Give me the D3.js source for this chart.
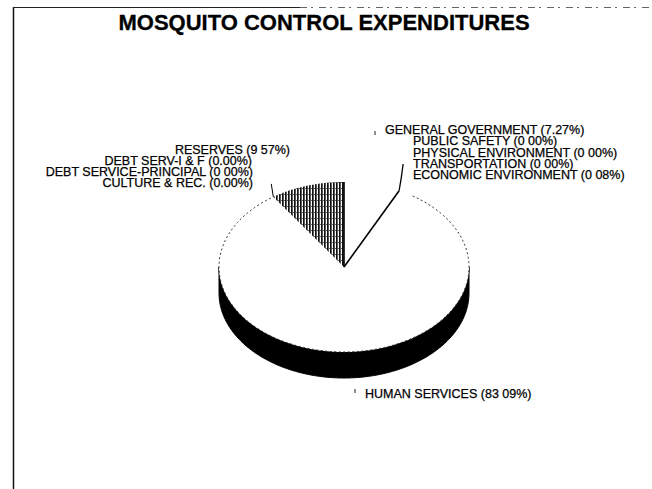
<!DOCTYPE html>
<html>
<head>
<meta charset="utf-8">
<script src="https://cdn.jsdelivr.net/npm/d3@7/dist/d3.min.js"></script>
<style>
  html, body { margin: 0; padding: 0; background: #fff; }
  svg text { font-family: "Liberation Sans", Arial, sans-serif; fill: #000; }
</style>
</head>
<body>
<svg id="chart" width="652" height="489"></svg>
<script>
// ---- data (clockwise from 12 o'clock) ----
const categories = [
  "GENERAL GOVERNMENT", "PUBLIC SAFETY", "PHYSICAL ENVIRONMENT", "TRANSPORTATION",
  "ECONOMIC ENVIRONMENT", "HUMAN SERVICES", "CULTURE & REC.", "DEBT SERVICE-PRINCIPAL",
  "DEBT SERV-I & F", "RESERVES"
];
const percents = [7.27, 0.00, 0.00, 0.00, 0.08, 83.09, 0.00, 0.00, 0.00, 9.57];
const percentLabels = ["7.27%", "0 00%", "0 00%", "0 00%", "0 08%", "83 09%", "0.00%", "0 00%", "0.00%", "9 57%"];
const title = "MOSQUITO CONTROL EXPENDITURES";

// ---- layout ----
const W = 652, H = 489;
const cx = 344, cy = 267, rx = 125, ry = 85, depth = 26;
const svg = d3.select("#chart");

// frame
svg.append("line").attr("x1", 13.5).attr("x2", 13.5).attr("y1", 7).attr("y2", H)
  .attr("stroke", "#111").attr("stroke-width", 1.5);
svg.append("line").attr("x1", 13).attr("x2", 300).attr("y1", 7.5).attr("y2", 7.5)
  .attr("stroke", "#222").attr("stroke-width", 1.2);
svg.append("line").attr("x1", 300).attr("x2", W).attr("y1", 7.5).attr("y2", 7.5)
  .attr("stroke", "#666").attr("stroke-width", 1).attr("stroke-dasharray", "7,4,2,6");

// title
svg.append("text").attr("x", 324).attr("y", 30).attr("text-anchor", "middle")
  .attr("font-size", 22).attr("font-weight", "bold")
  .attr("stroke", "#000").attr("stroke-width", 0.3).text(title);

// hatch pattern
const defs = svg.append("defs");
const pat = defs.append("pattern").attr("id", "hatch").attr("patternUnits", "userSpaceOnUse")
  .attr("width", 3).attr("height", 6);
pat.append("rect").attr("width", 3).attr("height", 6).attr("fill", "#fff");
pat.append("rect").attr("x", 0).attr("width", 1.7).attr("height", 6).attr("fill", "#111");
pat.append("rect").attr("x", 1.7).attr("y", 2).attr("width", 1.3).attr("height", 1).attr("fill", "#666");

// pie layout
const pie = d3.pie().sort(null).value(d => d).startAngle(0).endAngle(2 * Math.PI);
const arcs = pie(percents);

const pt = (a, dy = 0) => [cx + rx * Math.sin(a), cy - ry * Math.cos(a) + dy];
const line = d3.line();
function arcPts(a0, a1, dy = 0) {
  const n = Math.max(2, Math.ceil((a1 - a0) / 0.02));
  return d3.range(n + 1).map(i => pt(a0 + (a1 - a0) * i / n, dy));
}
function slicePath(d) {
  return line([[cx, cy], ...arcPts(d.startAngle, d.endAngle)]) + "Z";
}
function sidePath(d) {
  const s0 = Math.max(d.startAngle, Math.PI / 2), s1 = Math.min(d.endAngle, 3 * Math.PI / 2);
  if (s1 <= s0) return null;
  return line([...arcPts(s0, s1), ...arcPts(s0, s1, depth).reverse()]) + "Z";
}

const fills = i => categories[i] === "RESERVES" ? "url(#hatch)" : "#fff";

// sides
svg.append("g").selectAll("path").data(arcs.filter(d => d.data > 0 && sidePath(d)))
  .join("path").attr("d", sidePath).attr("fill", "#000").attr("stroke", "#000").attr("stroke-width", 1);

// tops
svg.append("g").selectAll("path").data(arcs.filter(d => d.data > 0))
  .join("path").attr("d", slicePath)
  .attr("fill", d => fills(d.index))
  .attr("stroke", "none");

// outline of the human services top rim (faint dotted)
const hs = arcs[categories.indexOf("HUMAN SERVICES")];
svg.append("path").attr("d", line(arcPts(hs.startAngle + 0.12, hs.endAngle)))
  .attr("fill", "none").attr("stroke", "#333").attr("stroke-width", 1).attr("stroke-dasharray", "2,2.5");

// boundary between general government and human services
const ggEnd = arcs[0].endAngle;
svg.append("line").attr("x1", cx).attr("y1", cy).attr("x2", pt(ggEnd)[0]).attr("y2", pt(ggEnd)[1])
  .attr("stroke", "#000").attr("stroke-width", 1.6);
// right edge of reserves (12 o'clock)
svg.append("line").attr("x1", cx).attr("y1", cy).attr("x2", pt(0)[0]).attr("y2", pt(0)[1])
  .attr("stroke", "#000").attr("stroke-width", 1.6);

// leader lines
const econ = arcs[categories.indexOf("ECONOMIC ENVIRONMENT")];
const pe = pt(econ.startAngle);
svg.append("path").attr("d", line([pe, [pe[0] + 2, pe[1] - 12], [pe[0] + 4, 164]]))
  .attr("fill", "none").attr("stroke", "#000").attr("stroke-width", 1.3);
const res = arcs[categories.indexOf("RESERVES")];
const pr = pt(res.startAngle);
svg.append("path").attr("d", line([pr, [pr[0] - 2, pr[1] - 13]]))
  .attr("fill", "none").attr("stroke", "#000").attr("stroke-width", 1);
svg.append("line").attr("x1", 375).attr("x2", 375).attr("y1", 131).attr("y2", 135)
  .attr("stroke", "#222").attr("stroke-width", 1);
svg.append("line").attr("x1", 355).attr("x2", 355).attr("y1", 389).attr("y2", 393)
  .attr("stroke", "#222").attr("stroke-width", 1);

// labels
const lab = i => `${categories[i]} (${percentLabels[i]})`;
const fs = 12.5;
const rightLabels = [
  { i: 0, x: 385, y: 134 },
  { i: 1, x: 413, y: 145 },
  { i: 2, x: 413, y: 157 },
  { i: 3, x: 413, y: 168 },
  { i: 4, x: 413, y: 179 }
];
const leftLabels = [
  { i: 9, x: 290, y: 154 },
  { i: 8, x: 252, y: 165 },
  { i: 7, x: 253, y: 176 },
  { i: 6, x: 253, y: 187 }
];
const txt = sel => sel.attr("font-size", fs).attr("stroke", "#000").attr("stroke-width", 0.25);
svg.append("g").selectAll("text").data(rightLabels).join("text")
  .attr("x", d => d.x).attr("y", d => d.y).call(txt).text(d => lab(d.i));
svg.append("g").selectAll("text").data(leftLabels).join("text")
  .attr("x", d => d.x).attr("y", d => d.y).call(txt).attr("text-anchor", "end").text(d => lab(d.i));
svg.append("text").attr("x", 365).attr("y", 398).call(txt).text(lab(5));
</script>
</body>
</html>
